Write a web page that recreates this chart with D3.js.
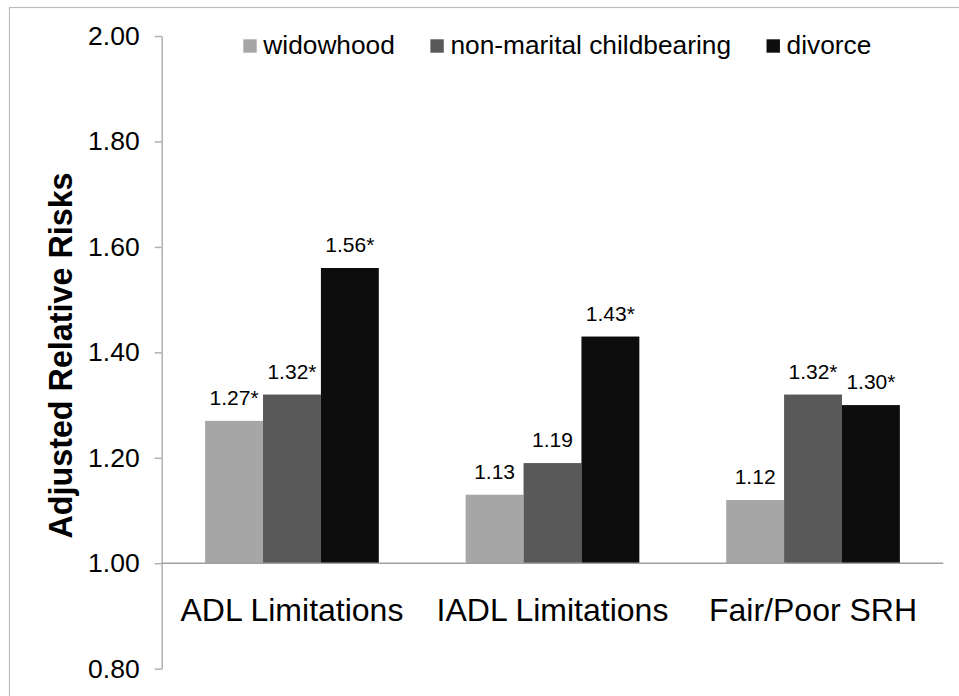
<!DOCTYPE html>
<html lang="en">
  <head>
   <meta http-equiv="Content-Type" content="text/html;charset=utf-8">
   <title>Adjusted Relative Risks</title>
   <script type="text/javascript" src="https://cdn.jsdelivr.net/npm/d3@7"></script>
   <style>
     body { margin: 0; background: white; }
     text { font-family: "Liberation Sans", Arial, sans-serif; fill: #000; }
   </style>
  </head>
  <body>
<script>

// values
var categories = ["ADL Limitations", "IADL Limitations", "Fair/Poor SRH"]
var series = ["widowhood", "non-marital childbearing", "divorce"]
var widowhood = [1.27, 1.13, 1.12]
var nonMarital = [1.32, 1.19, 1.32]
var divorce = [1.56, 1.43, 1.30]
var significant = [[true, true, true], [false, false, true], [false, true, true]] // [category][series]
var yTicks = [0.80, 1.00, 1.20, 1.40, 1.60, 1.80, 2.00]
var colors = ["#a6a6a6", "#595959", "#0d0d0d"]

var width = 959
var height = 696

var svg = d3.select("body").append("svg")
  .attr("width", width)
  .attr("height", height)

// outer chart border (runs off the right and bottom edge)
svg.append("rect")
  .attr("x", 9.5).attr("y", 7.5)
  .attr("width", 1200).attr("height", 1200)
  .attr("fill", "none")
  .attr("stroke", "#bcbcbc")
  .attr("stroke-width", 1.2)

var left = 161.7, right = 943.3

var y = d3.scaleLinear().domain([0.8, 2.0]).range([668.7, 36])

var x0 = d3.scaleBand().domain(categories).range([left, right])
var bw = x0.bandwidth()
var x1 = d3.scaleBand().domain(series).range([bw / 6, bw * 5 / 6])

var yAxis = d3.axisLeft(y)
  .tickValues(yTicks)
  .tickFormat(d3.format(".2f"))
  .tickSize(7)
  .tickSizeOuter(0)
  .tickPadding(15)

var gy = svg.append("g")
  .attr("transform", "translate(" + left + ",0)")
  .call(yAxis)
gy.select(".domain").attr("stroke", "#b0b0b0").attr("stroke-width", 1.5)
gy.selectAll(".tick line").attr("stroke", "#b0b0b0").attr("stroke-width", 1.5)
gy.selectAll(".tick text")
  .attr("font-size", 26.5)
  .attr("fill", "#000")

// build rows for the bars
var rows = []
categories.forEach(function(c, i){
  var vals = [widowhood[i], nonMarital[i], divorce[i]]
  series.forEach(function(s, j){
    rows.push({cat: c, ser: s, val: vals[j], idx: j, star: significant[i][j]})
  })
})

svg.selectAll("rect.bar").data(rows).enter().append("rect")
  .attr("class", "bar")
  .attr("x", function(d){ return x0(d.cat) + x1(d.ser) })
  .attr("width", x1.bandwidth())
  .attr("y", function(d){ return y(d.val) })
  .attr("height", function(d){ return y(1.0) - y(d.val) })
  .attr("fill", function(d){ return colors[d.idx] })

// baseline at 1.00
svg.append("line")
  .attr("x1", left).attr("x2", right)
  .attr("y1", y(1.0)).attr("y2", y(1.0))
  .attr("stroke", "#a0a0a0")
  .attr("stroke-width", 1.5)

svg.selectAll("text.val").data(rows).enter().append("text")
  .attr("class", "val")
  .attr("x", function(d){ return x0(d.cat) + x1(d.ser) + x1.bandwidth() / 2 })
  .attr("y", function(d){ return y(d.val) - 16 })
  .attr("text-anchor", "middle")
  .attr("font-size", 21)
  .text(function(d){ return d3.format(".2f")(d.val) + (d.star ? "*" : "") })

svg.selectAll("text.cat").data(categories).enter().append("text")
  .attr("class", "cat")
  .attr("x", function(d){ return x0(d) + bw / 2 })
  .attr("y", 621.3)
  .attr("text-anchor", "middle")
  .attr("font-size", 32)
  .text(function(d){ return d })

svg.append("text")
  .attr("transform", "translate(72,355.5) rotate(-90)")
  .attr("text-anchor", "middle")
  .attr("font-size", 32.3)
  .attr("font-weight", "bold")
  .text("Adjusted Relative Risks")

// legend, flowed left to right
var lx = 243.3
series.forEach(function(s, j){
  svg.append("rect")
    .attr("x", lx).attr("y", 39.3)
    .attr("width", 13.4).attr("height", 13.4)
    .attr("fill", colors[j])
  var t = svg.append("text")
    .attr("x", lx + 20)
    .attr("y", 53.5)
    .attr("font-size", 26.3)
    .text(s)
  lx = lx + 20 + t.node().getComputedTextLength() + 35.5
})

</script>
  </body>
</html>
